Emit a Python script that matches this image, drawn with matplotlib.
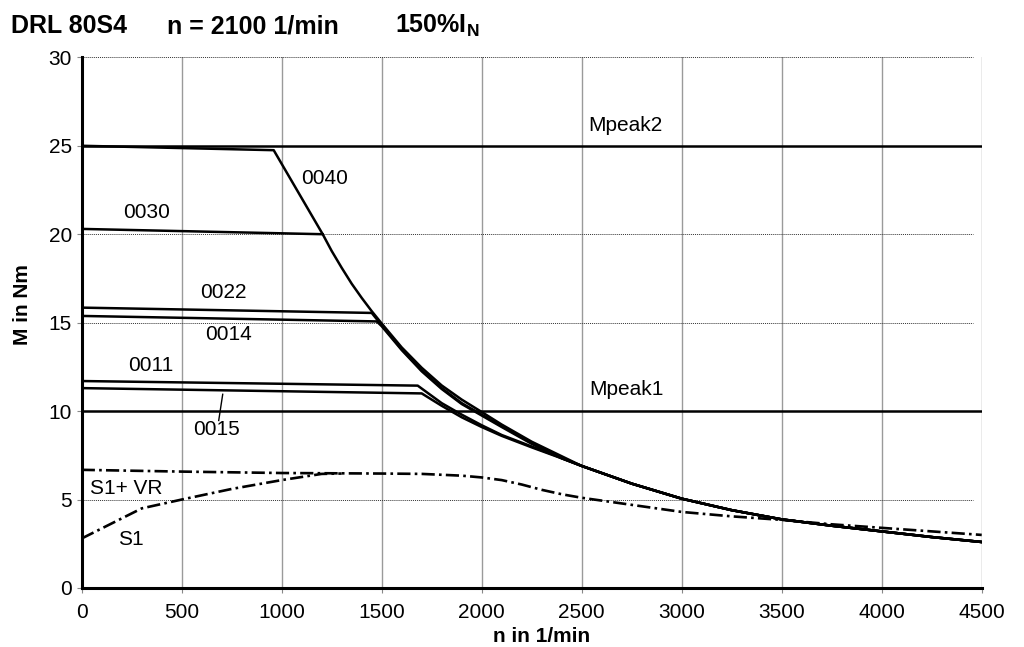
import numpy as np
import matplotlib
matplotlib.use("Agg")
import matplotlib.pyplot as plt

plt.rcParams["font.family"] = ["Liberation Sans", "DejaVu Sans"]
plt.rcParams["mathtext.fontset"] = "custom"
plt.rcParams["mathtext.rm"] = "Liberation Sans"
plt.rcParams["mathtext.bf"] = "Liberation Sans:bold"

# speed axis / torque axis
X_TICKS = [0, 500, 1000, 1500, 2000, 2500, 3000, 3500, 4000, 4500]
Y_TICKS = [0, 5, 10, 15, 20, 25, 30]

# 0040 curve incl. field weakening part
c0040_n = [0, 960, 1205, 1250, 1300, 1350, 1400, 1450, 1500, 1600, 1700, 1800,
           1900, 2000, 2100, 2250, 2500, 2750, 3000, 3250, 3500, 3750, 4000, 4250, 4500]
c0040_m = [25.0, 24.75, 20.0, 19.05, 18.1, 17.2, 16.4, 15.65, 14.95, 13.6, 12.45, 11.45,
           10.65, 9.95, 9.24, 8.27, 6.9, 5.9, 5.05, 4.4, 3.88, 3.52, 3.2, 2.88, 2.6]

# constant torque part of the smaller sizes (they end on the 0040 curve)
c0030_n = [0, 1205]
c0030_m = [20.3, 20.0]
c0022_n = [0, 1450, 1500, 1600, 1700, 1800, 1900, 2000, 2100, 2250, 2400, 2500]
c0022_m = [15.85, 15.55, 14.85, 13.5, 12.3, 11.3, 10.45, 9.8, 9.15, 8.2, 7.35, 6.9]
c0014_n = [0, 1475, 1500, 1600, 1700, 1800, 1900, 2000, 2100, 2250, 2400, 2500]
c0014_m = [15.38, 15.07, 14.8, 13.45, 12.25, 11.25, 10.4, 9.75, 9.1, 8.15, 7.33, 6.9]
c0011_n = [0, 1680, 1800, 1900, 2000, 2100, 2250, 2400, 2500]
c0011_m = [11.7, 11.44, 10.45, 9.8, 9.2, 8.65, 8.0, 7.35, 6.9]
c0015_n = [0, 1700, 1800, 1900, 2000, 2100, 2250, 2400, 2500]
c0015_m = [11.3, 11.0, 10.3, 9.65, 9.1, 8.6, 7.95, 7.33, 6.9]

# thermal limit curves
s1vr_n = [0, 500, 1000, 1500, 1700, 1900, 2000, 2100, 2200, 2300, 2400, 2500,
          2750, 3000, 3250, 3500, 3750, 4000, 4250, 4500]
s1vr_m = [6.68, 6.58, 6.5, 6.47, 6.45, 6.35, 6.25, 6.1, 5.85, 5.55, 5.3, 5.1,
          4.7, 4.3, 4.05, 3.85, 3.6, 3.4, 3.2, 3.0]
s1_n = [0, 300, 500, 750, 1000, 1200, 1300]
s1_m = [2.8, 4.5, 5.0, 5.6, 6.1, 6.45, 6.47]

MPEAK1 = 10
MPEAK2 = 25

fig = plt.figure(figsize=(10.24, 6.47), dpi=100)
ax = fig.add_axes([0.0798, 0.0912, 0.8789, 0.8202])

# grid: solid gray verticals, fine dotted horizontals
for x in X_TICKS[1:]:
    ax.axvline(x, color="#9a9a9a", lw=1.0, zorder=1)
for y in Y_TICKS[1:]:
    ax.plot([0, 4457], [y, y], color="#333333", lw=0.7, ls=(0, (1, 1)), zorder=1)

lw = 1.8
kw = dict(color="black", lw=lw, zorder=3, solid_joinstyle="round")
ax.plot([0, 4500], [MPEAK2, MPEAK2], **kw)
ax.plot([0, 4500], [MPEAK1, MPEAK1], **kw)

tail = [i for i, n in enumerate(c0040_n) if n > 2500]
tail_n = [c0040_n[i] for i in tail]
tail_m = [c0040_m[i] for i in tail]

ax.plot(c0040_n, c0040_m, **kw)
ax.plot(c0030_n, c0030_m, **kw)
for cn, cm in [(c0022_n, c0022_m), (c0014_n, c0014_m),
               (c0011_n, c0011_m), (c0015_n, c0015_m)]:
    ax.plot(cn + tail_n, cm + tail_m, **kw)

dashdot = (0, (5, 1.6, 1, 1.6))
ax.plot(s1vr_n, s1vr_m, color="black", lw=1.9, ls=dashdot, zorder=3)
ax.plot(s1_n, s1_m, color="black", lw=1.9, ls=dashdot, zorder=3)

# curve labels
fs = 15
ax.text(2533, 26.16, "Mpeak2", fontsize=fs, va="center", ha="left")
ax.text(2538, 11.22, "Mpeak1", fontsize=fs, va="center", ha="left")
ax.text(1095, 23.14, "0040", fontsize=fs, va="center", ha="left")
ax.text(208, 21.24, "0030", fontsize=fs, va="center", ha="left")
ax.text(592, 16.7, "0022", fontsize=fs, va="center", ha="left")
ax.text(617, 14.34, "0014", fontsize=fs, va="center", ha="left")
ax.text(232, 12.6, "0011", fontsize=fs, va="center", ha="left")
ax.text(557, 8.95, "0015", fontsize=fs, va="center", ha="left")
ax.plot([705, 685], [10.95, 9.47], color="black", lw=1.0, zorder=3)
ax.text(41, 5.61, "S1+ VR", fontsize=fs, va="center", ha="left")
ax.text(183, 2.73, "S1", fontsize=fs, va="center", ha="left")

ax.set_xlim(0, 4500)
ax.set_ylim(0, 30)
ax.set_xticks(X_TICKS)
ax.set_yticks(Y_TICKS)
ax.tick_params(axis="both", labelsize=fs, length=3.6, width=0.8, color="#888888")
ax.tick_params(axis="x", pad=7)
ax.tick_params(axis="y", pad=3.5)

for side in ("top", "right"):
    ax.spines[side].set_visible(False)
for side in ("left", "bottom"):
    ax.spines[side].set_linewidth(2.2)
    ax.spines[side].set_zorder(4)

fig.text(542 / 1024, 1 - 637 / 647, "n in 1/min", fontsize=15, fontweight="bold",
         ha="center", va="center")
fig.text(23 / 1024, 1 - 305 / 647, "M in Nm", fontsize=15, fontweight="bold",
         ha="center", va="center", rotation=90)

ty = 1 - 33 / 647
fig.text(11 / 1024, ty, "DRL 80S4", fontsize=18, fontweight="bold", va="baseline")
fig.text(167 / 1024, ty, "n = 2100 1/min", fontsize=18, fontweight="bold", va="baseline")
fig.text(395 / 1024, ty, r"150%I$_\mathbf{N}$", fontsize=18, fontweight="bold", va="baseline")

fig.savefig("out.png", dpi=100)
